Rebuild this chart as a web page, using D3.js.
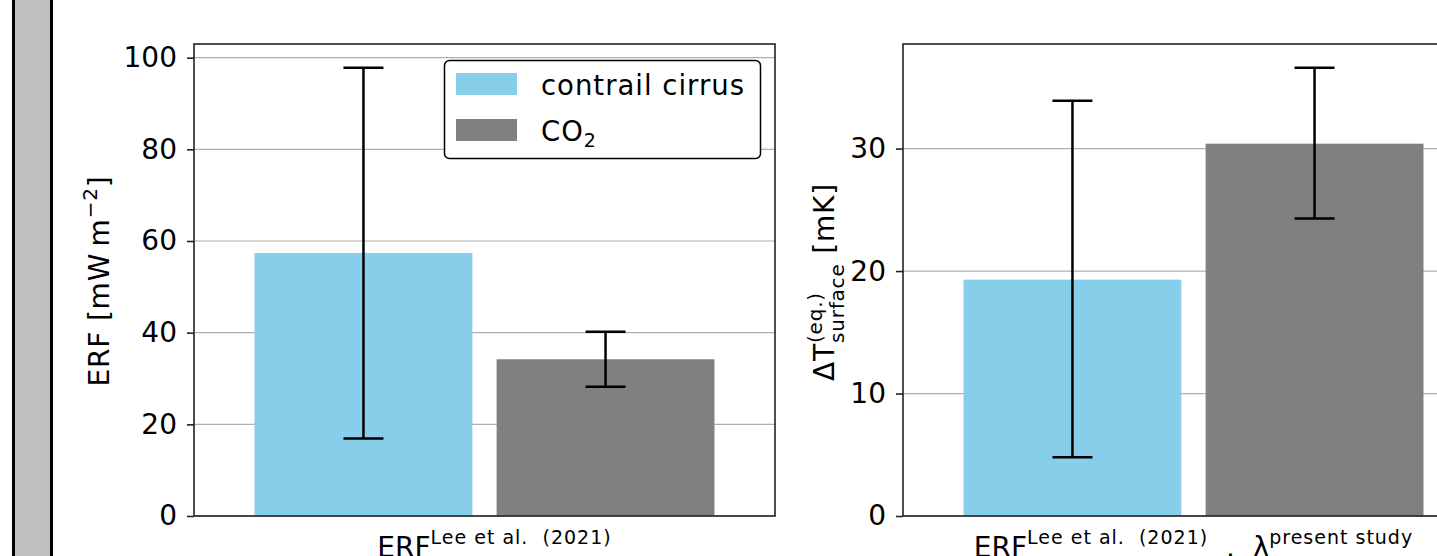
<!DOCTYPE html>
<html>
<head>
<meta charset="utf-8">
<script src="https://cdn.jsdelivr.net/npm/d3@7"></script>
<style>
  body { margin: 0; background: #fff; overflow: hidden; }
  text { font-family: "DejaVu Sans", sans-serif; fill: #000; white-space: pre; }
  .tick text { font-size: 28px; }
</style>
</head>
<body>
<div id="container"></div>
<script>
// values
const groups = ['contrail cirrus', 'CO\u2082'];
const erfMean = [57.4, 34.2];
const erfLower = [16.9, 28.2];
const erfUpper = [97.8, 40.2];
const dtMean = [19.3, 30.4];
const dtLower = [4.8, 24.3];
const dtUpper = [33.9, 36.6];
const erfTicks = [0, 20, 40, 60, 80, 100];
const dtTicks = [0, 10, 20, 30];

const colors = ['#87ceeb', '#808080'];

const w = 1437,
  h = 556,
  axTop = 44,
  axBottom = 516,
  panelW = 581;

const svg = d3.select('#container').append('svg').attr('width', w).attr('height', h);

// grey side strip on the left
svg
  .append('rect')
  .attr('x', 13.5)
  .attr('y', -5)
  .attr('width', 38)
  .attr('height', h + 10)
  .attr('fill', '#bfbfbf')
  .attr('stroke', '#000')
  .attr('stroke-width', 3);

function drawPanel(x0, means, lower, upper, ticks) {
  const g = svg.append('g');
  const x = d3.scaleLinear().domain([-0.7, 1.7]).range([x0, x0 + panelW]);
  const y = d3
    .scaleLinear()
    .domain([0, d3.max(upper) * 1.053])
    .range([axBottom, axTop]);

  g.selectAll('.grid')
    .data(ticks)
    .enter()
    .append('line')
    .attr('x1', x0)
    .attr('x2', x0 + panelW)
    .attr('y1', (d) => y(d))
    .attr('y2', (d) => y(d))
    .attr('stroke', '#b0b0b0')
    .attr('stroke-width', 1.2);

  g.selectAll('.bar')
    .data(means)
    .enter()
    .append('rect')
    .attr('x', (d, i) => x(i - 0.45))
    .attr('width', x(0.9) - x(0))
    .attr('y', (d) => y(d))
    .attr('height', (d) => y(0) - y(d))
    .attr('fill', (d, i) => colors[i]);

  const err = g.selectAll('.err').data(means).enter().append('g');
  err
    .append('line')
    .attr('x1', (d, i) => x(i))
    .attr('x2', (d, i) => x(i))
    .attr('y1', (d, i) => y(lower[i]))
    .attr('y2', (d, i) => y(upper[i]));
  err
    .append('line')
    .attr('x1', (d, i) => x(i) - 20)
    .attr('x2', (d, i) => x(i) + 20)
    .attr('y1', (d, i) => y(lower[i]))
    .attr('y2', (d, i) => y(lower[i]));
  err
    .append('line')
    .attr('x1', (d, i) => x(i) - 20)
    .attr('x2', (d, i) => x(i) + 20)
    .attr('y1', (d, i) => y(upper[i]))
    .attr('y2', (d, i) => y(upper[i]));
  err.selectAll('line').attr('stroke', '#000').attr('stroke-width', 2.5);

  g.append('rect')
    .attr('x', x0)
    .attr('y', axTop)
    .attr('width', panelW)
    .attr('height', axBottom - axTop)
    .attr('fill', 'none')
    .attr('stroke', '#222')
    .attr('stroke-width', 1.6);

  const yAxis = d3.axisLeft(y).tickValues(ticks).tickSize(7).tickPadding(10).tickFormat(d3.format('d'));
  const ax = g
    .append('g')
    .attr('transform', 'translate(' + x0 + ',0)')
    .attr('font-size', null)
    .attr('font-family', null)
    .call(yAxis);
  ax.select('.domain').remove();
  ax.selectAll('.tick line').attr('stroke', '#222').attr('stroke-width', 1.6);

  return { g, x, y };
}

// left panel: ERF
const left = drawPanel(194, erfMean, erfLower, erfUpper, erfTicks);

const lab1 = svg
  .append('text')
  .attr('transform', 'translate(109,281) rotate(-90)')
  .attr('text-anchor', 'middle')
  .attr('font-size', 28)
  .attr('letter-spacing', 0.8);
lab1.append('tspan').text('ERF [mW\u2009m');
lab1.append('tspan').attr('font-size', 20).attr('dy', -12).text('\u22122');
lab1.append('tspan').attr('dy', 12).text(']');

const xl1 = svg
  .append('text')
  .attr('x', left.x(0.5) + 10)
  .attr('y', 557)
  .attr('text-anchor', 'middle')
  .attr('font-size', 28);
xl1.append('tspan').text('ERF');
xl1.append('tspan').attr('font-size', 19).attr('dy', -13).attr('letter-spacing', 1).text('Lee et al.  (2021)');

// legend
const lgX = 194 + panelW - 15 - 316,
  lgY = axTop + 16;
const legend = svg.append('g').attr('transform', 'translate(' + lgX + ',' + lgY + ')');
legend
  .append('rect')
  .attr('x', 0.5)
  .attr('y', 0.5)
  .attr('width', 316)
  .attr('height', 98)
  .attr('rx', 5)
  .attr('fill', '#fff')
  .attr('stroke', '#000')
  .attr('stroke-width', 1.5);
const items = legend
  .selectAll('.item')
  .data(groups)
  .enter()
  .append('g')
  .attr('transform', (d, i) => 'translate(0,' + (13 + i * 46) + ')');
items
  .append('rect')
  .attr('x', 12)
  .attr('width', 61)
  .attr('height', 22)
  .attr('fill', (d, i) => colors[i]);
items
  .append('text')
  .attr('x', 97)
  .attr('y', 22)
  .attr('font-size', 27.5)
  .attr('letter-spacing', 1)
  .each(function (d) {
    const t = d3.select(this);
    if (d.endsWith('\u2082')) {
      t.append('tspan').text(d.slice(0, -1));
      t.append('tspan').attr('font-size', 19).attr('dy', 6).text('2');
    } else {
      t.text(d);
    }
  });

// right panel: surface temperature change
const right = drawPanel(903, dtMean, dtLower, dtUpper, dtTicks);

const lab2 = svg
  .append('text')
  .attr('transform', 'translate(834,282) rotate(-90)')
  .attr('text-anchor', 'middle')
  .attr('font-size', 28)
  .attr('letter-spacing', 0.8);
lab2.append('tspan').text('\u0394T');
const sup = lab2.append('tspan').attr('font-size', 20).attr('dy', -12).text('(eq.)');
const supLen = sup.node().getComputedTextLength();
lab2.append('tspan').attr('font-size', 20).attr('dx', -supLen).attr('dy', 22).text('surface');
lab2.append('tspan').attr('dy', -10).text(' [mK]');

const xl2 = svg
  .append('text')
  .attr('x', right.x(0.5))
  .attr('y', 557)
  .attr('text-anchor', 'middle')
  .attr('font-size', 28);
xl2.append('tspan').text('ERF');
xl2.append('tspan').attr('font-size', 19).attr('dy', -13).attr('letter-spacing', 1).text('Lee et al.  (2021)');
xl2.append('tspan').attr('dy', 13).text('  .  \u03bb');
xl2.append('tspan').attr('font-size', 19).attr('dy', -13).attr('letter-spacing', 1).text('present study');
</script>
</body>
</html>
